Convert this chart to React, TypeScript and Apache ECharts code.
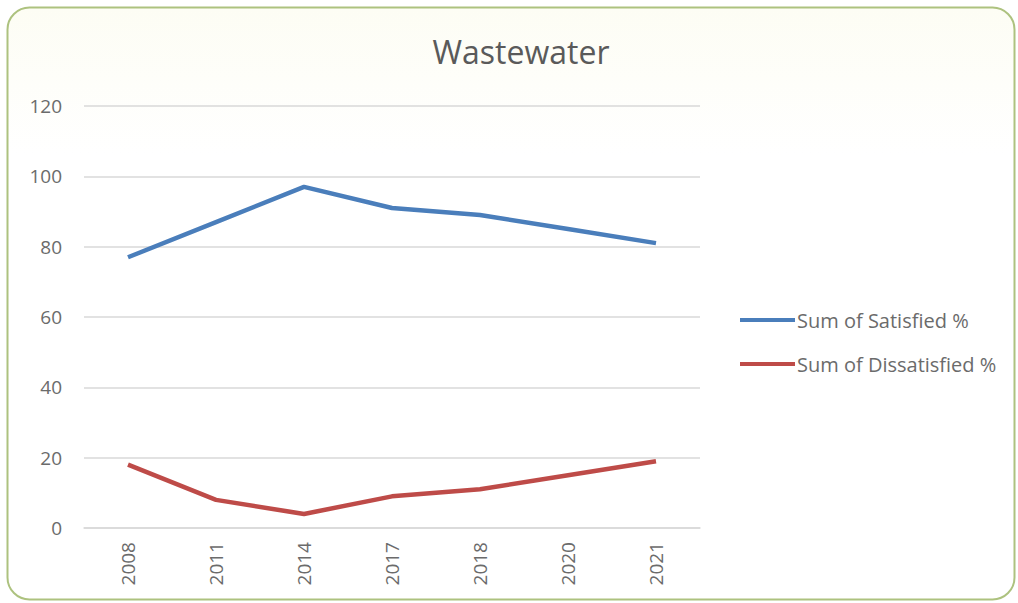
import React, { useEffect, useRef } from "react";
import * as echarts from "echarts";

const years = ["2008", "2011", "2014", "2017", "2018", "2020", "2021"];
const satisfied = [77, 87, 97, 91, 89, 85, 81];
const dissatisfied = [18, 8, 4, 9, 11, 15, 19];
const seriesNames = ["Sum of Satisfied %", "Sum of Dissatisfied %"];
const chartTitle = "Wastewater";

const FONT = "'Open Sans', 'Noto Sans', sans-serif";
const TEXT = "#6b6b6b";

export default function App() {
  const ref = useRef<HTMLDivElement>(null);

  useEffect(() => {
    if (!ref.current) return;
    const chart = echarts.init(ref.current, null, { renderer: "svg" });
    chart.setOption({
      animation: false,
      backgroundColor: "#ffffff",
      title: {
        text: chartTitle,
        left: 516,
        textAlign: "center",
        top: 30,
        textStyle: { fontFamily: FONT, fontSize: 32, fontWeight: "normal", color: "#5a5a5a" },
      },
      graphic: [
        {
          type: "rect",
          z: -10,
          shape: { x: 7.5, y: 7.5, width: 1007, height: 592, r: 22 },
          style: {
            fill: new echarts.graphic.LinearGradient(0, 0, 0, 1, [
              { offset: 0, color: "#fdfdf4" },
              { offset: 0.25, color: "#ffffff" },
              { offset: 1, color: "#ffffff" },
            ]),
            stroke: "#adc27f",
            lineWidth: 2,
          },
        },
      ],
      legend: {
        orient: "vertical",
        left: 735,
        top: 305,
        icon: "rect",
        itemWidth: 55,
        itemHeight: 4,
        itemGap: 24,
        data: seriesNames,
        textStyle: { fontFamily: FONT, fontSize: 20, color: TEXT, padding: [0, 0, 0, -3] },
      },
      grid: { left: 84, right: 318, top: 106, bottom: 75, containLabel: false },
      xAxis: {
        type: "category",
        data: years,
        boundaryGap: true,
        axisTick: { show: false },
        axisLine: { lineStyle: { color: "#d9d9d9", width: 1.5 } },
        axisLabel: { rotate: 90, margin: 14, fontFamily: FONT, fontSize: 19, color: TEXT },
      },
      yAxis: {
        type: "value",
        min: 0,
        max: 120,
        interval: 20,
        axisLine: { show: false },
        axisTick: { show: false },
        axisLabel: { margin: 22, fontFamily: FONT, fontSize: 19, color: TEXT },
        splitLine: { lineStyle: { color: "#d9d9d9", width: 1.5 } },
      },
      series: [
        {
          name: seriesNames[0],
          type: "line",
          data: satisfied,
          symbol: "none",
          lineStyle: { width: 4.5, color: "#4a7ebb" },
          itemStyle: { color: "#4a7ebb" },
        },
        {
          name: seriesNames[1],
          type: "line",
          data: dissatisfied,
          symbol: "none",
          lineStyle: { width: 4.5, color: "#be4b48" },
          itemStyle: { color: "#be4b48" },
        },
      ],
    });
    return () => chart.dispose();
  }, []);

  return (
    <div
      ref={ref}
      style={{ position: "absolute", left: 0, top: 0, width: 1018, height: 603 }}
    />
  );
}
